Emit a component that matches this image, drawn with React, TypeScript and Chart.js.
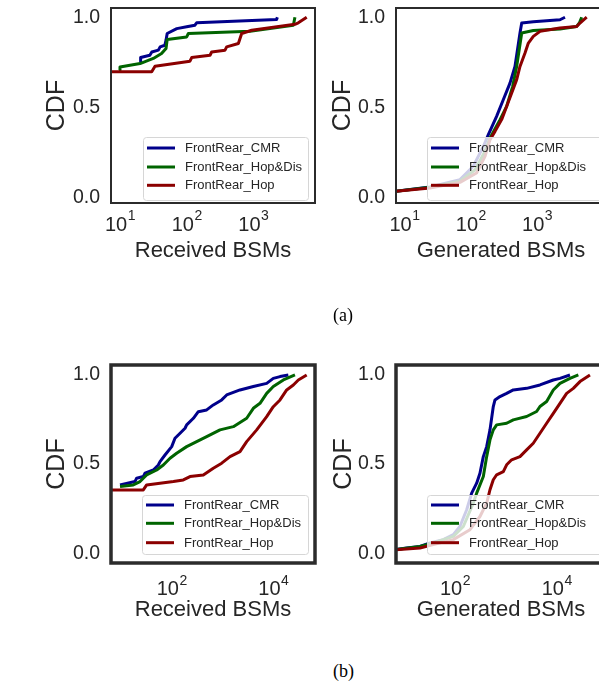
import React, { useEffect, useRef } from 'react';
import { Chart, registerables } from 'chart.js';

Chart.register(...registerables);

// ---------- data ----------
const seriesLabels = ['FrontRear_CMR', 'FrontRear_Hop&Dis', 'FrontRear_Hop'];
const seriesColors = ['#00008b', '#006400', '#8b0000'];

const yTickValues = [0, 0.5, 1.0];
const topXTickValues = [10, 100, 1000];
const bottomXTickValues = [100, 10000];

// (a) Received BSMs
const aRecvCmrX = [20, 20.4, 28, 30, 37.6, 40, 47, 49, 51, 71, 100, 133, 141, 2230, 2290];
const aRecvCmrY = [0.753, 0.777, 0.79, 0.808, 0.818, 0.836, 0.845, 0.873, 0.91, 0.937, 0.947, 0.956, 0.969, 0.987, 1.0];
const aRecvHdX = [9.67, 10, 20, 31.6, 42, 49, 51, 100, 106, 891, 3980, 4200];
const aRecvHdY = [0.707, 0.725, 0.744, 0.772, 0.799, 0.827, 0.877, 0.891, 0.91, 0.923, 0.956, 1.0];
const aRecvHopX = [7.2, 29.9, 33.5, 112, 119, 224, 237, 376, 398, 596, 668, 944, 4200, 4720, 6310];
const aRecvHopY = [0.698, 0.698, 0.729, 0.757, 0.777, 0.79, 0.808, 0.818, 0.836, 0.855, 0.91, 0.928, 0.961, 0.969, 1.0];

// (a) Generated BSMs
const aGenCmrX = [7.45, 24.3, 68.7, 109, 155, 184, 245, 309, 390, 464, 552, 586, 877, 2213, 2635];
const aGenCmrY = [0.038, 0.062, 0.102, 0.176, 0.286, 0.351, 0.452, 0.544, 0.636, 0.728, 0.913, 0.968, 0.975, 0.986, 1.0];
const aGenHdX = [7.45, 24.3, 68.7, 116, 164, 195, 276, 347, 428, 492, 586, 877, 2213, 3955, 4335, 4705];
const aGenHdY = [0.038, 0.06, 0.093, 0.157, 0.259, 0.332, 0.434, 0.507, 0.618, 0.728, 0.913, 0.927, 0.935, 0.949, 0.968, 1.0];
const aGenHopX = [7.45, 24.3, 68.7, 122, 164, 195, 232, 292, 347, 414, 492, 552, 657, 738, 877, 1107, 2213, 3955, 4433, 5600];
const aGenHopY = [0.038, 0.056, 0.087, 0.139, 0.231, 0.323, 0.369, 0.434, 0.507, 0.581, 0.655, 0.728, 0.802, 0.857, 0.894, 0.922, 0.94, 0.949, 0.968, 1.0];

// (b) Received BSMs
const bRecvCmrX = [9.6, 18.9, 20.4, 27.6, 29.8, 43.5, 54.5, 58.9, 73.8, 100, 116, 146, 183, 197, 267, 334, 488, 659, 964, 1208, 2210, 4045, 7410, 10000, 13550, 19770];
const bRecvCmrY = [0.383, 0.402, 0.421, 0.43, 0.449, 0.467, 0.495, 0.514, 0.551, 0.598, 0.645, 0.673, 0.701, 0.72, 0.757, 0.794, 0.804, 0.832, 0.86, 0.888, 0.916, 0.935, 0.953, 0.981, 0.991, 1.0];
const bRecvHdX = [9.6, 17.5, 23.8, 27.6, 32.1, 50.6, 68.4, 92.6, 125, 197, 310, 488, 893, 1634, 2990, 4045, 5470, 7410, 10000, 15770, 26700];
const bRecvHdY = [0.374, 0.383, 0.402, 0.421, 0.439, 0.467, 0.495, 0.533, 0.561, 0.598, 0.626, 0.654, 0.692, 0.71, 0.757, 0.813, 0.841, 0.897, 0.935, 0.972, 1.0];
const bRecvHopX = [6.3, 27.6, 32.1, 108, 169, 229, 419, 659, 964, 1406, 2210, 2990, 4710, 7410, 10000, 13550, 18340, 24800, 31100, 45400];
const bRecvHopY = [0.355, 0.355, 0.383, 0.402, 0.411, 0.43, 0.439, 0.477, 0.505, 0.542, 0.57, 0.626, 0.692, 0.766, 0.822, 0.86, 0.916, 0.944, 0.972, 1.0];

// (b) Generated BSMs
const bGenCmrX = [6.9, 11.2, 20.5, 32.2, 59, 92.7, 125, 170, 213, 267, 310, 361, 420, 488, 567, 612, 767, 1038, 1403, 2566, 4694, 8590, 11620, 18270];
const bGenCmrY = [0.02, 0.029, 0.038, 0.057, 0.076, 0.104, 0.15, 0.244, 0.337, 0.393, 0.449, 0.542, 0.598, 0.692, 0.823, 0.86, 0.879, 0.897, 0.916, 0.925, 0.944, 0.972, 0.981, 1.0];
const bGenHdX = [6.9, 20.5, 37.5, 92.7, 146, 229, 267, 361, 420, 488, 567, 660, 1038, 1403, 2566, 4033, 4694, 6353, 8590, 11620, 18270, 26680];
const bGenHdY = [0.02, 0.038, 0.057, 0.094, 0.15, 0.281, 0.337, 0.43, 0.542, 0.636, 0.692, 0.72, 0.729, 0.748, 0.767, 0.795, 0.823, 0.851, 0.916, 0.953, 0.981, 1.0];
const bGenHopX = [6.9, 20.5, 37.5, 92.7, 197, 310, 420, 488, 567, 660, 893, 1038, 1301, 1897, 2566, 3468, 4694, 6353, 8590, 11620, 15710, 21250, 28730, 45190];
const bGenHopY = [0.02, 0.029, 0.048, 0.076, 0.132, 0.206, 0.281, 0.356, 0.412, 0.44, 0.458, 0.496, 0.524, 0.542, 0.58, 0.617, 0.673, 0.729, 0.785, 0.841, 0.897, 0.925, 0.963, 1.0];

// ---------- styling ----------
const SANS = "'Liberation Sans', Arial, sans-serif";
const TEXT = '#262626';
const FRAME = '#2b2b2b';

type Rect = { left: number; top: number; width: number; height: number };
type Area = { l: number; t: number; r: number; b: number };
type LegendSpec = { dx: number; dyBottom: number; w: number; h: number; rows: number[] };
type PanelSpec = {
  canvas: Rect;
  area: Area;
  xMin: number;
  xMax: number;
  yMin: number;
  yMax: number;
  xTicks: number[];
  xTitle: string;
  series: { x: number[]; y: number[] }[];
  yTitleX: number;
  xTitleY: number;
  tickBaseline: number;
  frameWidth: number;
  legend: LegendSpec;
};

const legendTopL: LegendSpec = { dx: 32, dyBottom: 3, w: 165, h: 63, rows: [11, 30, 48.3] };
const legendTopR: LegendSpec = { dx: 31, dyBottom: 3, w: 185, h: 63, rows: [11, 30, 48.3] };
const legendBotL: LegendSpec = { dx: 31, dyBottom: 9, w: 166, h: 59, rows: [10, 28.3, 47.7] };
const legendBotR: LegendSpec = { dx: 31, dyBottom: 9, w: 185, h: 59, rows: [10, 28.3, 47.7] };

const panels: PanelSpec[] = [
  {
    canvas: { left: 0, top: 0, width: 330, height: 280 },
    area: { l: 111, t: 8, r: 315, b: 203 },
    xMin: 7.33, xMax: 8400, yMin: -0.027, yMax: 1.051,
    xTicks: topXTickValues, xTitle: 'Received BSMs',
    series: [
      { x: aRecvCmrX, y: aRecvCmrY },
      { x: aRecvHdX, y: aRecvHdY },
      { x: aRecvHopX, y: aRecvHopY },
    ],
    yTitleX: 57.5, xTitleY: 251, tickBaseline: 27.7, frameWidth: 2, legend: legendTopL,
  },
  {
    canvas: { left: 320, top: 0, width: 300, height: 280 },
    area: { l: 396, t: 8, r: 606, b: 203 },
    xMin: 7.45, xMax: 10940, yMin: -0.027, yMax: 1.051,
    xTicks: topXTickValues, xTitle: 'Generated BSMs',
    series: [
      { x: aGenCmrX, y: aGenCmrY },
      { x: aGenHdX, y: aGenHdY },
      { x: aGenHopX, y: aGenHopY },
    ],
    yTitleX: 343.5, xTitleY: 251, tickBaseline: 27.7, frameWidth: 2, legend: legendTopR,
  },
  {
    canvas: { left: 0, top: 340, width: 330, height: 300 },
    area: { l: 111, t: 365, r: 315, b: 563 },
    xMin: 6.38, xMax: 66200, yMin: -0.055, yMax: 1.056,
    xTicks: bottomXTickValues, xTitle: 'Received BSMs',
    series: [
      { x: bRecvCmrX, y: bRecvCmrY },
      { x: bRecvHdX, y: bRecvHdY },
      { x: bRecvHopX, y: bRecvHopY },
    ],
    yTitleX: 57.5, xTitleY: 610, tickBaseline: 32, frameWidth: 3.5, legend: legendBotL,
  },
  {
    canvas: { left: 320, top: 340, width: 300, height: 300 },
    area: { l: 396, t: 365, r: 606, b: 563 },
    xMin: 6.92, xMax: 93400, yMin: -0.055, yMax: 1.056,
    xTicks: bottomXTickValues, xTitle: 'Generated BSMs',
    series: [
      { x: bGenCmrX, y: bGenCmrY },
      { x: bGenHdX, y: bGenHdY },
      { x: bGenHopX, y: bGenHopY },
    ],
    yTitleX: 344, xTitleY: 610, tickBaseline: 32, frameWidth: 3.5, legend: legendBotR,
  },
];

function roundRectPath(ctx: CanvasRenderingContext2D, x: number, y: number, w: number, h: number, r: number) {
  ctx.beginPath();
  ctx.moveTo(x + r, y);
  ctx.lineTo(x + w - r, y);
  ctx.arcTo(x + w, y, x + w, y + r, r);
  ctx.lineTo(x + w, y + h - r);
  ctx.arcTo(x + w, y + h, x + w - r, y + h, r);
  ctx.lineTo(x + r, y + h);
  ctx.arcTo(x, y + h, x, y + h - r, r);
  ctx.lineTo(x, y + r);
  ctx.arcTo(x, y, x + r, y, r);
  ctx.closePath();
}

function buildConfig(spec: PanelSpec): any {
  const c = spec.canvas;
  const xTitleSize = 22;
  const yTitleSize = 25;
  const padL = spec.yTitleX - c.left - yTitleSize / 2;
  const padT = spec.area.t - c.top;
  const padR = c.left + c.width - spec.area.r;
  const padB = c.top + c.height - spec.xTitleY - xTitleSize / 2;
  const yAxisW = spec.area.l - c.left - padL;
  const xAxisH = c.top + c.height - padB - spec.area.b;

  const overlay = {
    id: 'overlay',
    afterDraw(chart: any) {
      const ctx: CanvasRenderingContext2D = chart.ctx;
      const a = chart.chartArea;
      ctx.save();
      // frame
      ctx.strokeStyle = FRAME;
      ctx.lineWidth = spec.frameWidth;
      ctx.strokeRect(a.left, a.top, a.right - a.left, a.bottom - a.top);

      // legend
      const lg = spec.legend;
      const bx = a.left + lg.dx;
      const by = a.bottom - lg.dyBottom - lg.h;
      roundRectPath(ctx, bx + 0.5, by + 0.5, lg.w, lg.h, 3);
      ctx.fillStyle = 'rgba(255,255,255,0.8)';
      ctx.fill();
      ctx.strokeStyle = '#d6d6d6';
      ctx.lineWidth = 1;
      ctx.stroke();
      chart.data.datasets.forEach((ds: any, i: number) => {
        const yy = by + lg.rows[i];
        ctx.strokeStyle = ds.borderColor;
        ctx.lineWidth = 3;
        ctx.beginPath();
        ctx.moveTo(bx + 4, yy);
        ctx.lineTo(bx + 32, yy);
        ctx.stroke();
        ctx.fillStyle = TEXT;
        ctx.font = `13px ${SANS}`;
        ctx.textAlign = 'left';
        ctx.textBaseline = 'middle';
        ctx.fillText(ds.label, bx + 42, yy + 0.5);
      });

      // x tick labels 10^k
      const xs = chart.scales.x;
      const base = a.bottom + spec.tickBaseline;
      spec.xTicks.forEach((v) => {
        const px = xs.getPixelForValue(v);
        const exp = String(Math.round(Math.log10(v)));
        ctx.font = `20px ${SANS}`;
        const w1 = ctx.measureText('10').width;
        ctx.font = `14px ${SANS}`;
        const w2 = ctx.measureText(exp).width;
        const start = px - (w1 + w2) / 2;
        ctx.fillStyle = TEXT;
        ctx.textAlign = 'left';
        ctx.textBaseline = 'alphabetic';
        ctx.font = `20px ${SANS}`;
        ctx.fillText('10', start, base);
        ctx.font = `14px ${SANS}`;
        ctx.fillText(exp, start + w1 + 0.5, base - 10.5);
      });
      ctx.restore();
    },
  };

  return {
    type: 'line',
    data: {
      datasets: spec.series.map((s, i) => ({
        label: seriesLabels[i],
        data: s.x.map((x, j) => ({ x, y: s.y[j] })),
        borderColor: seriesColors[i],
        backgroundColor: seriesColors[i],
        borderWidth: 3,
        pointRadius: 0,
        tension: 0,
        fill: false,
        borderJoinStyle: 'round',
        order: 3 - i,
      })),
    },
    options: {
      animation: false,
      responsive: false,
      maintainAspectRatio: false,
      devicePixelRatio: 1,
      events: [],
      layout: { padding: { left: padL, top: padT, right: padR, bottom: padB } },
      plugins: { legend: { display: false }, tooltip: { enabled: false } },
      scales: {
        x: {
          type: 'logarithmic',
          min: spec.xMin,
          max: spec.xMax,
          grid: { display: false, drawTicks: false },
          border: { display: false },
          ticks: { display: false },
          title: {
            display: true,
            text: spec.xTitle,
            color: TEXT,
            font: { family: SANS, size: xTitleSize, lineHeight: 1 },
            padding: 0,
          },
          afterFit(s: any) {
            s.height = xAxisH;
            s.paddingLeft = 0;
            s.paddingRight = 0;
          },
        },
        y: {
          type: 'linear',
          min: spec.yMin,
          max: spec.yMax,
          afterBuildTicks(s: any) {
            s.ticks = yTickValues.map((v) => ({ value: v }));
          },
          grid: { display: false, drawTicks: false },
          border: { display: false },
          ticks: {
            color: TEXT,
            padding: 11,
            font: { family: SANS, size: 19.5 },
            autoSkip: false,
            callback: (v: any) => Number(v).toFixed(1),
          },
          title: {
            display: true,
            text: 'CDF',
            color: TEXT,
            font: { family: SANS, size: yTitleSize, lineHeight: 1 },
            padding: 0,
          },
          afterFit(s: any) {
            s.width = yAxisW;
            s.paddingTop = 0;
            s.paddingBottom = 0;
          },
        },
      },
    },
    plugins: [overlay],
  };
}

function Panel({ spec }: { spec: PanelSpec }) {
  const ref = useRef<HTMLCanvasElement | null>(null);
  useEffect(() => {
    if (!ref.current) return;
    const chart = new Chart(ref.current, buildConfig(spec));
    return () => chart.destroy();
  }, [spec]);
  const c = spec.canvas;
  return (
    <canvas
      ref={ref}
      width={c.width}
      height={c.height}
      style={{ position: 'absolute', left: c.left, top: c.top, width: c.width, height: c.height }}
    />
  );
}

const captionStyle: React.CSSProperties = {
  position: 'absolute',
  fontFamily: "'Liberation Serif', 'Times New Roman', serif",
  fontSize: 18,
  lineHeight: '18px',
  color: '#000',
  whiteSpace: 'nowrap',
};

export default function App() {
  return (
    <div
      style={{
        position: 'absolute',
        left: 0,
        top: 0,
        width: 599,
        height: 682,
        overflow: 'hidden',
        background: '#fff',
      }}
    >
      {panels.map((p, i) => (
        <Panel key={i} spec={p} />
      ))}
      <div style={{ ...captionStyle, left: 333, top: 306 }}>(a)</div>
      <div style={{ ...captionStyle, left: 333, top: 662 }}>(b)</div>
    </div>
  );
}
